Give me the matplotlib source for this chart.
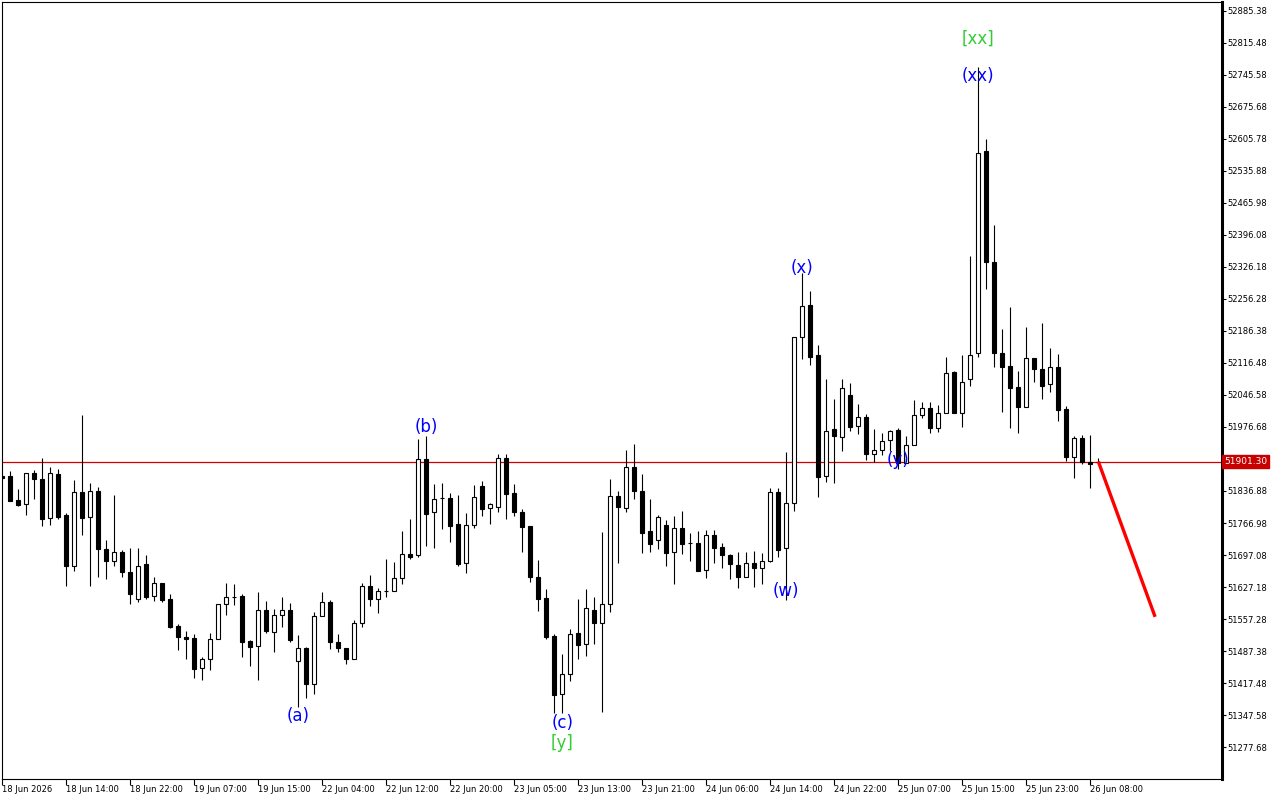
import matplotlib
matplotlib.use('Agg')
import matplotlib.pyplot as plt
import matplotlib.transforms as mtransforms
import numpy as np


# H1 bars, 18 Jun 2026 06:00 -> 26 Jun 2026 09:00
opens = [51870, 51870, 51817, 51808, 51876, 51862, 51777, 51873, 51784, 51672,
         51834, 51779, 51837, 51710, 51685, 51703, 51661, 51602, 51677, 51607,
         51637, 51600, 51541, 51519, 51516, 51450, 51469, 51513, 51589, 51606,
         51607, 51509, 51498, 51576, 51528, 51565, 51576, 51465, 51495, 51415,
         51563, 51594, 51506, 51495, 51471, 51548, 51629, 51602, 51618, 51618,
         51646, 51699, 51696, 51906, 51790, 51821, 51821, 51764, 51680, 51762,
         51847, 51799, 51803, 51908, 51832, 51790, 51760, 51648, 51603, 51520,
         51393, 51437, 51526, 51502, 51576, 51548, 51589, 51825, 51799, 51889,
         51837, 51750, 51729, 51763, 51703, 51755, 51723, 51723, 51664, 51740,
         51714, 51697, 51675, 51648, 51679, 51668, 51683, 51834, 51712, 51810,
         52173, 52243, 52133, 51870, 51972, 51954, 52046, 51978, 51998, 51917,
         51926, 51948, 51970, 51897, 51937, 52002, 52018, 51974, 52007, 52096,
         52007, 52081, 52138, 52579, 52338, 52138, 52111, 52063, 52021, 52127,
         52103, 52070, 52108, 52015, 51912, 51952, 51901, 51901.3]
highs = [51872, 51881, 51841, 51876, 51883, 51908, 51889, 51886, 51788, 51861,
         52003, 51854, 51845, 51730, 51828, 51708, 51712, 51712, 51697, 51650,
         51637, 51612, 51546, 51531, 51524, 51474, 51526, 51589, 51636, 51634,
         51612, 51511, 51616, 51597, 51579, 51605, 51592, 51522, 51497, 51572,
         51616, 51598, 51524, 51495, 51555, 51635, 51653, 51624, 51688, 51681,
         51750, 51776, 51950, 51957, 51852, 51854, 51832, 51828, 51788, 51850,
         51859, 51811, 51918, 51918, 51852, 51798, 51760, 51686, 51623, 51524,
         51481, 51535, 51601, 51623, 51605, 51747, 51862, 51837, 51926, 51940,
         51874, 51819, 51784, 51774, 51782, 51793, 51745, 51750, 51752, 51752,
         51723, 51699, 51704, 51704, 51706, 51701, 51843, 51843, 51923, 52173,
         52313, 52274, 52155, 52082, 52038, 52082, 52072, 52028, 52005, 51972,
         51963, 51970, 51975, 51957, 52035, 52032, 52031, 52025, 52129, 52098,
         52134, 52350, 52764, 52605, 52418, 52191, 52238, 52098, 52195, 52127,
         52203, 52149, 52136, 52023, 51956, 51959, 51959, 51908]
lows = [51863, 51816, 51804, 51784, 51819, 51760, 51763, 51775, 51630, 51663,
        51741, 51630, 51650, 51645, 51674, 51648, 51591, 51595, 51601, 51597,
        51594, 51538, 51490, 51471, 51429, 51425, 51445, 51513, 51567, 51587,
        51474, 51455, 51425, 51526, 51486, 51540, 51507, 51364, 51384, 51393,
        51563, 51491, 51486, 51460, 51471, 51540, 51586, 51570, 51606, 51618,
        51633, 51688, 51692, 51717, 51713, 51753, 51726, 51674, 51658, 51757,
        51783, 51764, 51790, 51775, 51783, 51703, 51639, 51575, 51513, 51351,
        51351, 51422, 51471, 51477, 51502, 51354, 51572, 51679, 51790, 51819,
        51701, 51704, 51710, 51674, 51633, 51699, 51685, 51663, 51646, 51679,
        51668, 51644, 51624, 51648, 51628, 51633, 51681, 51692, 51599, 51794,
        52126, 52112, 51823, 51857, 51854, 51925, 51969, 51961, 51904, 51900,
        51916, 51925, 51886, 51897, 51937, 51996, 51963, 51966, 52007, 52007,
        51977, 52067, 52130, 52279, 52108, 52010, 51974, 51963, 52021, 52076,
        52037, 52053, 51990, 51903, 51865, 51896, 51843, 51896]
closes = [51865, 51816, 51806, 51876, 51862, 51775, 51876, 51781, 51672, 51834,
          51777, 51836, 51710, 51685, 51703, 51661, 51611, 51673, 51606, 51637,
          51599, 51540, 51519, 51514, 51447, 51469, 51514, 51589, 51606, 51606,
          51508, 51497, 51576, 51530, 51565, 51576, 51511, 51495, 51415, 51563,
          51594, 51506, 51495, 51471, 51548, 51629, 51602, 51618, 51618, 51646,
          51699, 51693, 51906, 51787, 51819, 51821, 51761, 51678, 51762, 51823,
          51798, 51808, 51908, 51831, 51790, 51758, 51648, 51600, 51519, 51391,
          51437, 51524, 51500, 51581, 51548, 51589, 51825, 51801, 51889, 51836,
          51746, 51722, 51779, 51702, 51755, 51722, 51723, 51663, 51740, 51712,
          51696, 51677, 51648, 51679, 51668, 51683, 51834, 51707, 51810, 52173,
          52240, 52130, 51868, 51967, 51956, 52061, 51976, 51998, 51917, 51926,
          51947, 51967, 51897, 51937, 52002, 52018, 51974, 52007, 52094, 52008,
          52074, 52133, 52575, 52338, 52138, 52108, 52061, 52020, 52127, 52103,
          52067, 52108, 52014, 51912, 51952, 51901, 51895, 51901.3]

last_price = 51901.30

date_labels = ['18 Jun 2026', '18 Jun 14:00', '18 Jun 22:00', '19 Jun 07:00',
               '19 Jun 15:00', '22 Jun 04:00', '22 Jun 12:00', '22 Jun 20:00',
               '23 Jun 05:00', '23 Jun 13:00', '23 Jun 21:00', '24 Jun 06:00',
               '24 Jun 14:00', '24 Jun 22:00', '25 Jun 07:00', '25 Jun 15:00',
               '25 Jun 23:00', '26 Jun 08:00']
date_bars = list(range(0, 137, 8))

price_ticks = [51277.68, 51347.58, 51417.48, 51487.38, 51557.28, 51627.18,
               51697.08, 51766.98, 51836.88, 51906.78, 51976.68, 52046.58,
               52116.48, 52186.38, 52256.28, 52326.18, 52396.08, 52465.98,
               52535.88, 52605.78, 52675.68, 52745.58, 52815.48, 52885.38]

# wave marks: text, bar, price, colour
wave_text = ['(a)', '(b)', '(c)', '[y]', '(w)', '(x)', '(y)', '(xx)', '[xx]']
wave_bar = [37, 53, 70, 70, 98, 100, 112, 122, 122]
wave_price = [51345, 51977, 51330, 51286, 51618, 52324, 51905, 52743, 52824]
wave_color = ['#0000ff', '#0000ff', '#0000ff', '#32cd32', '#0000ff',
              '#0000ff', '#0000ff', '#0000ff', '#32cd32']

# forecast segment
forecast_x = [137, 144.1]
forecast_y = [51901.3, 51562]


fig = plt.figure(figsize=(12.8, 8), dpi=100)
ax = fig.add_axes([2 / 1280, 21 / 800, 1220 / 1280, 777 / 800])

x = np.arange(len(opens))
o = np.array(opens, dtype=float)
c = np.array(closes, dtype=float)
up = c >= o

ax.vlines(x, lows, highs, color='black', linewidth=0.8, zorder=2)
ax.bar(x[up], (c - o)[up], bottom=o[up], width=0.5, color='white',
       edgecolor='black', linewidth=0.8, zorder=3)
ax.bar(x[~up], (o - c)[~up], bottom=c[~up], width=0.5, color='black',
       edgecolor='black', linewidth=0.8, zorder=3)

ax.axhline(last_price, color='#d00000', linewidth=0.9, zorder=1)
ax.plot(forecast_x, forecast_y, color='#ff0000', linewidth=2.4, zorder=4,
        solid_capstyle='butt')

for t, b, p, col in zip(wave_text, wave_bar, wave_price, wave_color):
    ax.text(b, p, t, color=col, fontsize=12, ha='center', va='center', zorder=5)

ax.set_xlim(-0.04, 152.46)
ax.set_ylim(51207.8, 52905.0)

# the tick label under the price tag is hidden by the tag
tick_text = []
for v in price_ticks:
    if abs(v - last_price) < 20:
        tick_text.append('')
    else:
        tick_text.append('%.2f' % v)

ax.yaxis.tick_right()
ax.set_yticks(price_ticks)
ax.set_yticklabels(tick_text)
ax.tick_params(axis='y', direction='out', length=3, width=0.8, pad=1,
               labelsize=6)

ax.set_xticks(date_bars)
ax.set_xticklabels(date_labels, ha='left')
ax.tick_params(axis='x', direction='out', length=4.5, width=0.8, pad=0,
               labelsize=6)

for side in ['top', 'left', 'bottom']:
    ax.spines[side].set_linewidth(0.8)
ax.spines['right'].set_linewidth(2.2)

trans = mtransforms.blended_transform_factory(ax.transAxes, ax.transData)
ax.text(1.0015, last_price, '%.2f' % last_price, transform=trans,
        color='white', fontsize=6.5, ha='left', va='center', zorder=10,
        clip_on=False,
        bbox=dict(boxstyle='square,pad=0.2', facecolor='#c80000',
                  edgecolor='#c80000'))

fig.savefig('out.png', dpi=100)
